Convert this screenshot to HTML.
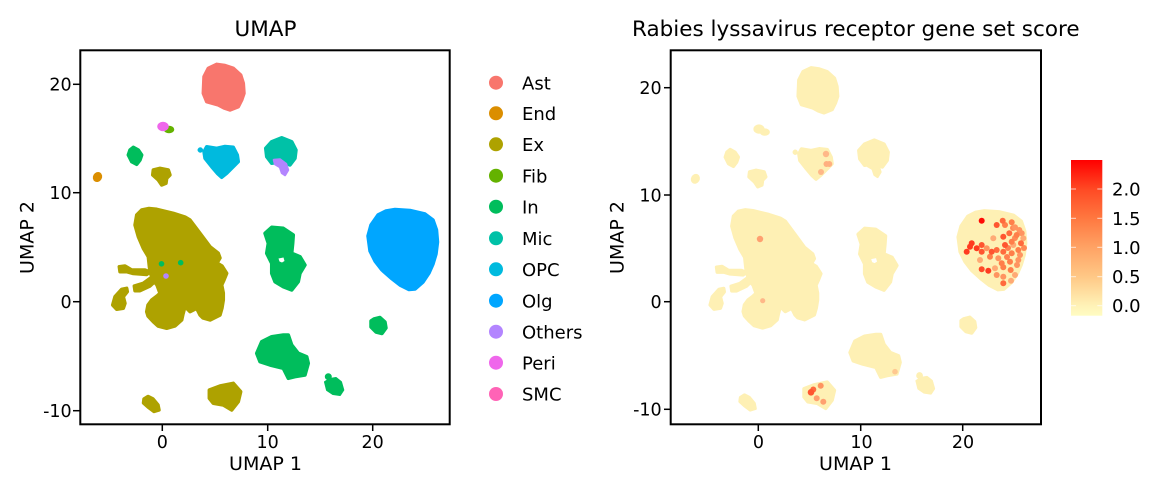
<!DOCTYPE html>
<html><head><meta charset="utf-8"><style>
html,body{margin:0;padding:0;background:#fff;}
svg{display:block;}
text{font-family:"DejaVu Sans","Liberation Sans",sans-serif;fill:#000;}
</style></head><body>
<svg width="1170" height="494" viewBox="0 0 1170 494" xmlns="http://www.w3.org/2000/svg">
<defs>
<linearGradient id="cb" x1="0" y1="0" x2="0" y2="1">
<stop offset="0" stop-color="#FF0000"/>
<stop offset="0.19" stop-color="#FF4A24"/>
<stop offset="0.375" stop-color="#FF7840"/>
<stop offset="0.56" stop-color="#FFA264"/>
<stop offset="0.75" stop-color="#FFC886"/>
<stop offset="0.94" stop-color="#FFF3B8"/>
<stop offset="1" stop-color="#FFFCC2"/>
</linearGradient>
<polygon id="ast" points="204,76.7 208.3,68.3 216.7,64.3 225,65.5 233.3,68.3 240.7,75 243.3,83.3 244,93.3 241.7,100 238.3,106.7 230,110 224,108 218.3,105 206.7,101.7 203.3,93.3"/>
<ellipse id="fibb" cx="169" cy="129.5" rx="4.5" ry="3"/>
<ellipse id="perib" cx="163" cy="126.5" rx="5" ry="4"/>
<polygon id="in1" points="133.3,147.3 138.3,150 141.7,155 140,160 136.7,164.3 131.7,161.7 128.3,155 130,150"/>
<ellipse id="end" cx="97.5" cy="177" rx="3.5" ry="4.2" transform="rotate(30 97.5 177)"/>
<polygon id="exs" points="153.3,170 160,168.3 168.3,170 170,175 166.7,178.3 166,183.3 161.7,185 158.3,180 152.7,175"/>
<polygon id="opc" points="206.7,146.7 216.7,148.3 225,146.5 233.3,147.3 237.3,155 238.3,161.7 231.7,168.3 226.7,173.3 221.7,177.3 217.3,173.3 211.7,166.7 205,158.3 204,151.7"/>
<circle id="opcdot" cx="200.3" cy="150" r="2.5"/>
<polygon id="mic" points="271.7,141.7 281.7,137.7 291.7,141.7 296,150 295,158.3 290,165 281.7,161.7 271.7,163.3 266.7,156.7 265.7,148.3"/>
<polygon id="oth" points="274,160 280,159.5 286,164 288,170 285,175 282,173 280,167 275,164"/>
<polygon id="inmid" points="265,233.3 271.7,227.3 283.3,228.3 293.3,235 292.7,243.3 291.7,253.3 300,256.7 305,265 300,273.3 298.3,281.7 291.7,290 283.3,286.7 275,281.7 271.7,273.3 271.7,263.3 266.7,253.3 268.3,243.3"/>
<polygon id="inhole" points="278.5,258.5 283.5,257.5 284.5,261 282,262.5 279.5,261.5"/>
<polygon id="olg" points="368,236 371,225 378,215 386,211 395,209.5 410,210.5 425,214 433,220 436.5,230 437.5,242 436,254 433,264 429,273 423,282 415,289 409,289.5 400,285 391,278 382,270 375,261 370,251"/>
<polygon id="ins2" points="374,319 380,317.5 385,322 386,328 382,333.5 376,332 371,327 371,321"/>
<polygon id="inlow" points="256.7,353.3 261.7,341.7 271.7,336.7 283.3,335 288.3,335 291.7,345 298.3,353.3 306.7,356.7 308.3,363.3 305,375 295,376.7 288.3,378.3 283.3,368.3 270,365 260,361.7"/>
<g id="intiny"><circle cx="328.3" cy="376.7" r="2.5"/><polygon points="325,382 330,379 336,378 341,382 343.3,390 340,395 333,394 327,390"/></g>
<polygon id="exlow" points="209.3,390 220,386 233.3,383.3 240.7,391.7 238.3,401.7 231.7,410 223.3,405 213.3,403.3 209.3,398.3"/>
<polygon id="extiny" points="144,399 148,396.5 153,399 158,405 159,410 154,411.5 148,407 143.5,403"/>
<g id="exbig">
<polygon points="136.7,215 141.7,210 149,208.5 156.7,209.3 173.3,213.3 185,217 190,220 200,233.3 210,246.7 218.3,253.3 220,258 217,263 222,266 226.7,273.3 224,280 221.7,285 223.3,293 223.3,300 222,308 220,315 210,320 203,318 200,315 196.7,308.3 190,311.7 185,306.7 183,314 181.7,320 175,326 166.7,328.3 158,326 153.3,321.7 148,316 146.7,311.7 148,305 151.7,300 157,296 160,293.3 157,285 153,280 150,272 149.3,266 148.3,256.7 143.3,248.3 138.3,236.7 135,225"/>
<polygon points="119.3,266.7 125,266 131.7,270 145,270 150,272 146.7,274.5 133.3,273.5 126.7,271.7 120,271.7"/>
<polygon points="134.3,286 143.3,283.3 153.3,276 158.3,278.3 150,286 140,290.7 135,290.7"/>
<polygon points="115,296.7 121.7,289.3 126.7,288.3 127.3,291.7 123.3,296.7 125,303.3 123.3,308.3 116.7,309.3 112.7,305"/>
</g>
</defs>
<rect width="1170" height="494" fill="#fff"/>

<!-- Titles -->
<text x="265.5" y="36" font-size="21.5" text-anchor="middle">UMAP</text>
<text x="855.8" y="36" font-size="21.5" text-anchor="middle">Rabies lyssavirus receptor gene set score</text>

<!-- LEFT PANEL points -->
<g stroke-width="3.5" stroke-linejoin="round">
<use href="#ast" fill="#F8766D" stroke="#F8766D"/>
<use href="#fibb" fill="#64B200" stroke="#64B200" stroke-width="1.5"/>
<use href="#perib" fill="#EF67EB" stroke="#EF67EB" stroke-width="1.5"/>
<use href="#in1" fill="#00BD5C" stroke="#00BD5C"/>
<use href="#end" fill="#DB8E00" stroke="#DB8E00" stroke-width="2"/>
<use href="#exs" fill="#AEA200" stroke="#AEA200"/>
<use href="#opc" fill="#00BADE" stroke="#00BADE"/>
<use href="#opcdot" fill="#00BADE" stroke="#00BADE" stroke-width="0.5"/>
<use href="#mic" fill="#00C1A7" stroke="#00C1A7"/>
<use href="#oth" fill="#B385FF" stroke="#B385FF" stroke-width="2.5"/>
<use href="#inmid" fill="#00BD5C" stroke="#00BD5C"/>
<use href="#olg" fill="#00A6FF" stroke="#00A6FF"/>
<use href="#ins2" fill="#00BD5C" stroke="#00BD5C"/>
<use href="#inlow" fill="#00BD5C" stroke="#00BD5C"/>
<use href="#intiny" fill="#00BD5C" stroke="#00BD5C" stroke-width="2"/>
<use href="#exlow" fill="#AEA200" stroke="#AEA200"/>
<use href="#extiny" fill="#AEA200" stroke="#AEA200"/>
<use href="#exbig" fill="#AEA200" stroke="#AEA200"/>
</g>
<use href="#inhole" fill="#fff"/>
<circle cx="161.5" cy="263.8" r="2.8" fill="#00BD5C"/>
<circle cx="180.7" cy="262.7" r="2.8" fill="#00BD5C"/>
<circle cx="166" cy="276" r="2.8" fill="#B385FF"/>

<!-- LEFT PANEL axes -->
<rect x="80.3" y="50.3" width="369.4" height="374" fill="none" stroke="#000" stroke-width="2"/>
<g stroke="#000" stroke-width="1.5">
<line x1="73" y1="84.3" x2="80" y2="84.3"/>
<line x1="73" y1="192.7" x2="80" y2="192.7"/>
<line x1="73" y1="301.7" x2="80" y2="301.7"/>
<line x1="73" y1="410.7" x2="80" y2="410.7"/>
<line x1="162.3" y1="425" x2="162.3" y2="431"/>
<line x1="267.7" y1="425" x2="267.7" y2="431"/>
<line x1="372.7" y1="425" x2="372.7" y2="431"/>
</g>
<g font-size="17.5">
<text x="71.7" y="90.6" text-anchor="end">20</text>
<text x="71.7" y="199" text-anchor="end">10</text>
<text x="71.7" y="308" text-anchor="end">0</text>
<text x="71.7" y="417" text-anchor="end">-10</text>
<text x="162.3" y="448" text-anchor="middle">0</text>
<text x="267.7" y="448" text-anchor="middle">10</text>
<text x="372.7" y="448" text-anchor="middle">20</text>
</g>
<text x="265.5" y="470" font-size="19" text-anchor="middle">UMAP 1</text>
<text transform="translate(33.3,237.5) rotate(-90)" font-size="19" text-anchor="middle">UMAP 2</text>

<!-- LEGEND -->
<g>
<circle cx="496" cy="82.7" r="7" fill="#F8766D"/>
<circle cx="496" cy="113.3" r="7" fill="#DB8E00"/>
<circle cx="496" cy="144.3" r="7" fill="#AEA200"/>
<circle cx="496" cy="175.7" r="7" fill="#64B200"/>
<circle cx="496" cy="206.7" r="7" fill="#00BD5C"/>
<circle cx="496" cy="238.3" r="7" fill="#00C1A7"/>
<circle cx="496" cy="269.3" r="7" fill="#00BADE"/>
<circle cx="496" cy="300.7" r="7" fill="#00A6FF"/>
<circle cx="496" cy="331.7" r="7" fill="#B385FF"/>
<circle cx="496" cy="362.7" r="7" fill="#EF67EB"/>
<circle cx="496" cy="394" r="7" fill="#FF63B6"/>
</g>
<g font-size="18">
<text x="522" y="89.3">Ast</text>
<text x="522" y="119.9">End</text>
<text x="522" y="150.9">Ex</text>
<text x="522" y="182.3">Fib</text>
<text x="522" y="213.3">In</text>
<text x="522" y="244.9">Mic</text>
<text x="522" y="275.9">OPC</text>
<text x="522" y="307.3">Olg</text>
<text x="522" y="338.3">Others</text>
<text x="522" y="369.3">Peri</text>
<text x="522" y="400.6">SMC</text>
</g>

<!-- RIGHT PANEL background points -->
<g transform="matrix(0.9715,0,0,0.9853,600.63,4.43)" fill="#FEF0B4" stroke="#FEF0B4" stroke-width="3.5" stroke-linejoin="round">
<use href="#ast"/>
<use href="#fibb" stroke-width="1.5"/>
<use href="#perib" stroke-width="1.5"/>
<use href="#in1"/>
<use href="#end" stroke-width="2"/>
<use href="#exs"/>
<use href="#opc"/>
<use href="#opcdot" stroke-width="0.5"/>
<use href="#mic"/>
<use href="#oth" stroke-width="2.5"/>
<use href="#inmid"/>
<use href="#olg"/>
<use href="#ins2"/>
<use href="#inlow"/>
<use href="#intiny" stroke-width="2"/>
<use href="#exlow"/>
<use href="#extiny"/>
<use href="#exbig"/>
<use href="#inhole" fill="#fff" stroke="none"/>
</g>

<!-- RIGHT PANEL score points -->
<g>
<circle cx="760" cy="239" r="3.2" fill="#FFA070"/>
<circle cx="762.7" cy="300.7" r="2.6" fill="#FFB888"/>
<circle cx="826" cy="154" r="3.2" fill="#FFB888"/>
<circle cx="826.5" cy="164" r="3" fill="#FFB080"/>
<circle cx="829.3" cy="164" r="3" fill="#FFB080"/>
<circle cx="821" cy="172" r="3" fill="#FFB888"/>
<circle cx="895" cy="371.7" r="2.8" fill="#FFC890"/>
<circle cx="816.7" cy="398.3" r="3" fill="#FFA070"/>
<circle cx="823.3" cy="401.7" r="3" fill="#FFA070"/>
<circle cx="820.7" cy="385.7" r="3" fill="#FF9460"/>
<circle cx="813.3" cy="389.5" r="3" fill="#FF6A3D"/>
<circle cx="811" cy="392.3" r="3.3" fill="#FF5530"/>

<circle cx="1015" cy="238" r="3" fill="#FF8A55"/>
<circle cx="1020" cy="255" r="3" fill="#FF9460"/>
<circle cx="1008" cy="248" r="3" fill="#FF8050"/>
<circle cx="1024" cy="248" r="3" fill="#FF8A55"/>
<circle cx="1017" cy="265" r="3" fill="#FF9460"/>
<circle cx="1007" cy="257" r="3" fill="#FF8050"/>
<circle cx="1013" cy="228" r="3" fill="#FF8A55"/>
<circle cx="1021.7" cy="233.3" r="3" fill="#FF9460"/>
<circle cx="1023.3" cy="238.3" r="3" fill="#FFAA75"/>
<circle cx="1013.3" cy="245" r="3" fill="#FFAA75"/>
<circle cx="980" cy="260" r="3" fill="#FFAA75"/>
<circle cx="995" cy="268.3" r="3" fill="#FFAA75"/>
<circle cx="1015" cy="275" r="3" fill="#FFAA75"/>
<circle cx="1011" cy="280.7" r="3" fill="#FFAA75"/>
<circle cx="993.3" cy="238.3" r="3" fill="#FFAA75"/>
<circle cx="986.7" cy="248.3" r="3" fill="#FF9460"/>
<circle cx="998.3" cy="258.3" r="3" fill="#FF9460"/>
<circle cx="1018.3" cy="260" r="3" fill="#FF9460"/>
<circle cx="996.7" cy="275" r="3" fill="#FF9460"/>
<circle cx="1003.3" cy="276.7" r="3" fill="#FF9460"/>
<circle cx="1015" cy="227.3" r="3" fill="#FF9460"/>
<circle cx="1019.3" cy="230" r="3" fill="#FF9460"/>
<circle cx="1005" cy="225" r="3" fill="#FF7F4A"/>
<circle cx="1011.7" cy="222.3" r="3" fill="#FF7F4A"/>
<circle cx="1016.7" cy="235" r="3" fill="#FF7F4A"/>
<circle cx="1011.7" cy="241.7" r="3" fill="#FF7F4A"/>
<circle cx="1018.3" cy="250" r="3" fill="#FF7F4A"/>
<circle cx="1011.7" cy="253.3" r="3" fill="#FF7F4A"/>
<circle cx="990" cy="256.7" r="3" fill="#FF7F4A"/>
<circle cx="1001.7" cy="263.3" r="3" fill="#FF7F4A"/>
<circle cx="1010" cy="261.7" r="3" fill="#FF7F4A"/>
<circle cx="1003.3" cy="267.3" r="3" fill="#FF7F4A"/>
<circle cx="1010.7" cy="270" r="3" fill="#FF7F4A"/>
<circle cx="1002.7" cy="220.7" r="3" fill="#FF6A3D"/>
<circle cx="1009.3" cy="233.3" r="3" fill="#FF6A3D"/>
<circle cx="1021" cy="243.3" r="3" fill="#FF6A3D"/>
<circle cx="1003.3" cy="251.7" r="3" fill="#FF6A3D"/>
<circle cx="996.7" cy="250" r="3" fill="#FF6A3D"/>
<circle cx="1003.3" cy="283.3" r="3" fill="#FF6A3D"/>
<circle cx="996.7" cy="225" r="3" fill="#FF5530"/>
<circle cx="1003.3" cy="236.7" r="3" fill="#FF5530"/>
<circle cx="1005" cy="245" r="3" fill="#FF5530"/>
<circle cx="991.7" cy="251.7" r="3" fill="#FF5530"/>
<circle cx="981.7" cy="245" r="3" fill="#FF5530"/>
<circle cx="981.7" cy="251.7" r="3" fill="#FF5530"/>
<circle cx="981.7" cy="269.3" r="3" fill="#FF4A28"/>
<circle cx="976.7" cy="248.3" r="3" fill="#FF3A1F"/>
<circle cx="971.7" cy="243.3" r="3" fill="#FF3A1F"/>
<circle cx="970" cy="246.7" r="3" fill="#FF3A1F"/>
<circle cx="966.7" cy="251.7" r="3" fill="#FF3A1F"/>
<circle cx="988.3" cy="270.7" r="3" fill="#FF3A1F"/>
<circle cx="981.7" cy="220.7" r="3" fill="#FF0A05"/>
</g>

<!-- RIGHT PANEL axes -->
<rect x="670.7" y="50.3" width="370.3" height="374" fill="none" stroke="#000" stroke-width="2"/>
<g stroke="#000" stroke-width="1.5">
<line x1="664" y1="87.7" x2="670.7" y2="87.7"/>
<line x1="664" y1="195" x2="670.7" y2="195"/>
<line x1="664" y1="301.7" x2="670.7" y2="301.7"/>
<line x1="664" y1="409.3" x2="670.7" y2="409.3"/>
<line x1="758.3" y1="425" x2="758.3" y2="431"/>
<line x1="860.7" y1="425" x2="860.7" y2="431"/>
<line x1="962.7" y1="425" x2="962.7" y2="431"/>
</g>
<g font-size="17.5">
<text x="661.7" y="94" text-anchor="end">20</text>
<text x="661.7" y="201.3" text-anchor="end">10</text>
<text x="661.7" y="308" text-anchor="end">0</text>
<text x="661.7" y="415.6" text-anchor="end">-10</text>
<text x="758.5" y="448" text-anchor="middle">0</text>
<text x="861.5" y="448" text-anchor="middle">10</text>
<text x="963" y="448" text-anchor="middle">20</text>
</g>
<text x="855.5" y="470" font-size="19" text-anchor="middle">UMAP 1</text>
<text transform="translate(623.3,237.5) rotate(-90)" font-size="19" text-anchor="middle">UMAP 2</text>

<!-- COLORBAR -->
<rect x="1071" y="160" width="31.3" height="155.7" fill="url(#cb)"/>
<g stroke="#fff" stroke-opacity="0.7" stroke-width="1">
<line x1="1071" y1="189" x2="1076" y2="189"/><line x1="1097.3" y1="189" x2="1102.3" y2="189"/>
<line x1="1071" y1="218.3" x2="1076" y2="218.3"/><line x1="1097.3" y1="218.3" x2="1102.3" y2="218.3"/>
<line x1="1071" y1="247.3" x2="1076" y2="247.3"/><line x1="1097.3" y1="247.3" x2="1102.3" y2="247.3"/>
<line x1="1071" y1="276.7" x2="1076" y2="276.7"/><line x1="1097.3" y1="276.7" x2="1102.3" y2="276.7"/>
<line x1="1071" y1="305.7" x2="1076" y2="305.7"/><line x1="1097.3" y1="305.7" x2="1102.3" y2="305.7"/>
</g>
<g font-size="18">
<text x="1112" y="195.6">2.0</text>
<text x="1112" y="224.8">1.5</text>
<text x="1112" y="253.8">1.0</text>
<text x="1112" y="283.1">0.5</text>
<text x="1112" y="312.2">0.0</text>
</g>
</svg>
</body></html>
